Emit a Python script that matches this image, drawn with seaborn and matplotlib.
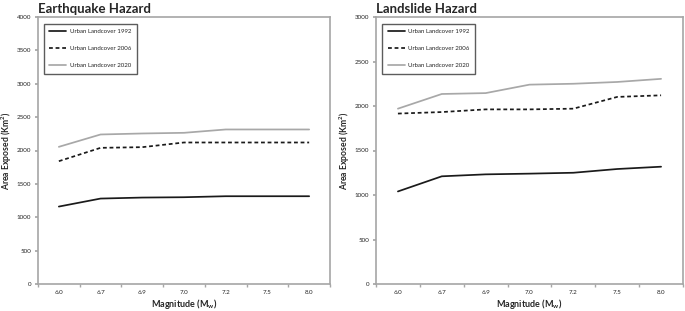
import numpy as np
import pandas as pd
import matplotlib
matplotlib.use("Agg")
import matplotlib.pyplot as plt
from matplotlib.ticker import FixedLocator, MultipleLocator
import seaborn as sns

magnitudes = ["6.0", "6.7", "6.9", "7.0", "7.2", "7.5", "8.0"]
series = ["Urban Landcover 1992", "Urban Landcover 2006", "Urban Landcover 2020"]

eq_1992 = [1160, 1280, 1295, 1300, 1315, 1315, 1315]
eq_2006 = [1840, 2040, 2050, 2120, 2120, 2120, 2120]
eq_2020 = [2055, 2240, 2255, 2265, 2315, 2315, 2315]

ls_1992 = [1040, 1210, 1232, 1240, 1250, 1292, 1318]
ls_2006 = [1915, 1932, 1962, 1962, 1970, 2102, 2120]
ls_2020 = [1970, 2135, 2145, 2240, 2250, 2270, 2305]

GRID = "#a6a6a6"
sns.set_theme(style="white")
plt.rcParams["font.family"] = ["Lato", "DejaVu Sans"]


def frame(a, b, c):
    return pd.DataFrame({
        "mag": magnitudes * 3,
        "area": a + b + c,
        "cover": np.repeat(series, len(magnitudes)),
    })


palette = dict(zip(series, ["#1a1a1a", "#1a1a1a", "#a8a8a8"]))
dashes = dict(zip(series, ["", (2.2, 1.6), ""]))

fig = plt.figure(figsize=(6.85, 3.11), dpi=100)
ax_eq = fig.add_axes([38 / 685, 27 / 311, 292 / 685, 267 / 311])
ax_ls = fig.add_axes([376 / 685, 27 / 311, 307 / 685, 267 / 311])

panels = [
    (ax_eq, frame(eq_1992, eq_2006, eq_2020), "Earthquake Hazard", 4000),
    (ax_ls, frame(ls_1992, ls_2006, ls_2020), "Landslide Hazard", 3000),
]
for ax, df, title, ymax in panels:
    sns.lineplot(data=df, x="mag", y="area", hue="cover", style="cover",
                 palette=palette, dashes=dashes, linewidth=1.25, sort=False, ax=ax)
    ax.set_xlim(-0.5, len(magnitudes) - 0.5)
    ax.set_ylim(0, ymax)
    ax.yaxis.set_major_locator(MultipleLocator(500))
    ax.xaxis.set_minor_locator(FixedLocator(np.arange(-0.5, len(magnitudes), 1)))
    ax.tick_params(axis="x", which="major", length=0, labelsize=4.5, pad=4)
    ax.tick_params(axis="x", which="minor", length=2.5, color=GRID, direction="out", bottom=True)
    ax.tick_params(axis="y", length=2.5, color=GRID, direction="out", labelsize=4.5, left=True, pad=2.5)
    for s in ax.spines.values():
        s.set_color(GRID)
        s.set_linewidth(1.2)
    ax.set_xlabel("Magnitude (M$_\\mathregular{w}$)", fontsize=6.5, fontweight="bold", labelpad=2)
    ax.set_ylabel("Area Exposed (Km$^\\mathregular{2}$)", fontsize=6.2, fontweight="bold", labelpad=1.5)
    ax.set_title(title, loc="left", fontsize=9.5, fontweight="bold", pad=3, x=0.0)
    leg = ax.legend(loc="upper left", bbox_to_anchor=(0.02, 0.975), fontsize=4.4,
                    frameon=True, fancybox=False, handlelength=2.8, labelspacing=1.9,
                    borderpad=0.9, handletextpad=0.6, borderaxespad=0.0)
    leg.get_frame().set_edgecolor("#333333")
    leg.get_frame().set_linewidth(1.0)

fig.savefig("out.png", dpi=100)
